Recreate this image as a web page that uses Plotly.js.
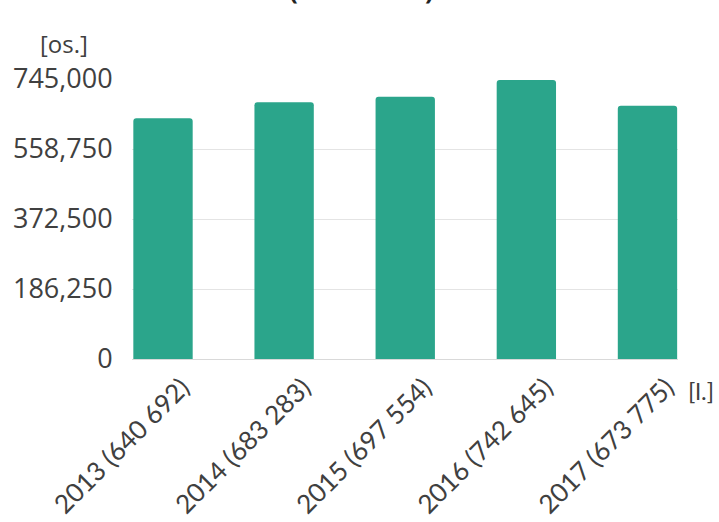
<!DOCTYPE html>
<html>
<head>
<meta charset="utf-8">
<script src="https://cdn.plot.ly/plotly-3.0.1.min.js"></script>
<style>html,body{margin:0;padding:0;background:#fff;}#chart{width:719px;height:522px;}</style>
</head>
<body>
<div id="chart"></div>
<script>
const years = ["2013", "2014", "2015", "2016", "2017"];
const values = [640692, 683283, 697554, 742645, 673775];
const tickLabels = ["2013 (640 692)", "2014 (683 283)", "2015 (697 554)", "2016 (742 645)", "2017 (673 775)"];
const yTicks = [0, 186250, 372500, 558750, 745000];
const yTickText = ["0", "186,250", "372,500", "558,750", "745,000"];
const titleText = "(2013-2017)";
const yUnit = "[os.]";
const xUnit = "[l.]";

const trace = {
  type: "bar",
  x: years,
  y: values,
  marker: {color: "#2ba58b", cornerradius: 3},
  hoverinfo: "x+y"
};

const layout = {
  width: 719, height: 522,
  margin: {l: 132, r: 41, t: 79, b: 163},
  paper_bgcolor: "#ffffff",
  plot_bgcolor: "#ffffff",
  bargap: 0.51,
  showlegend: false,
  xaxis: {
    type: "category",
    range: [-0.256, 4.252],
    tickvals: years,
    ticktext: tickLabels,
    tickangle: -45,
    ticklabelshift: 19,
    showgrid: false,
    showline: true,
    linecolor: "#d9d9d9",
    linewidth: 1,
    zeroline: false,
    ticks: "outside",
    ticklen: 2,
    tickcolor: "rgba(0,0,0,0)",
    tickfont: {family: "Lato, 'Open Sans', sans-serif", size: 26, color: "#404040"}
  },
  yaxis: {
    range: [0, 745000],
    tickvals: yTicks,
    ticktext: yTickText,
    showgrid: true,
    gridcolor: "#e4e4e4",
    gridwidth: 1,
    zeroline: false,
    showline: false,
    ticks: "outside",
    ticklen: 13,
    tickcolor: "rgba(0,0,0,0)",
    tickfont: {family: "'Open Sans', sans-serif", size: 27, color: "#404040"}
  },
  annotations: [
    {text: "<b>" + titleText + "</b>", xref: "paper", yref: "paper", x: 0.42, y: 1, yshift: 70,
     xanchor: "center", yanchor: "bottom", showarrow: false,
     font: {family: "'Open Sans', sans-serif", size: 26, color: "#222"}},
    {text: yUnit, xref: "paper", yref: "paper", x: 0, xshift: -68, y: 1, yshift: 36,
     xanchor: "center", yanchor: "middle", showarrow: false,
     font: {family: "'Open Sans', sans-serif", size: 24, color: "#404040"}},
    {text: xUnit, xref: "paper", yref: "paper", x: 1, xshift: 23, y: 0, yshift: -31,
     xanchor: "center", yanchor: "middle", showarrow: false,
     font: {family: "Lato, 'Open Sans', sans-serif", size: 24, color: "#404040"}}
  ]
};

Plotly.newPlot("chart", [trace], layout, {displayModeBar: false, staticPlot: true});
</script>
</body>
</html>
